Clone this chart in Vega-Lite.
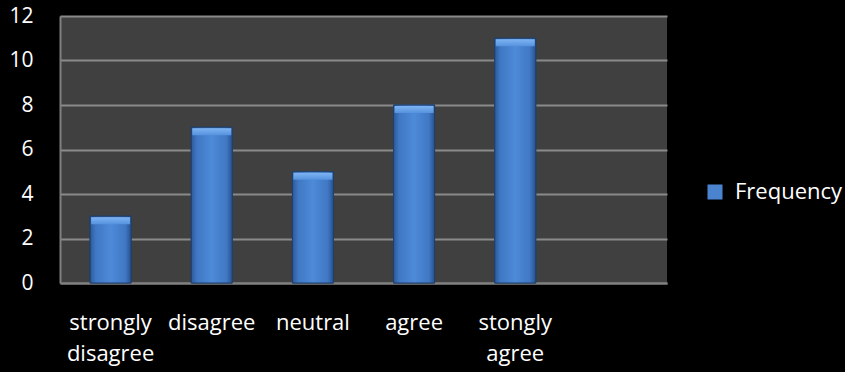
{
  "$schema": "https://vega.github.io/schema/vega-lite/v6.json",
  "width": 607,
  "height": 267,
  "autosize": "none",
  "padding": {"left": 60, "top": 16, "right": 178, "bottom": 89},
  "background": "#000000",
  "data": {
    "values": [
      {"response": "strongly disagree", "frequency": 3},
      {"response": "disagree", "frequency": 7},
      {"response": "neutral", "frequency": 5},
      {"response": "agree", "frequency": 8},
      {"response": "stongly agree", "frequency": 11}
    ]
  },
  "encoding": {
    "x": {
      "field": "response",
      "type": "nominal",
      "sort": null,
      "title": null,
      "scale": {
        "domain": ["strongly disagree", "disagree", "neutral", "agree", "stongly agree", " "],
        "paddingInner": 0.595,
        "paddingOuter": 0.2975
      },
      "axis": {
        "labelExpr": "split(datum.label, ' ')",
        "labelAngle": 0,
        "labelColor": "#ffffff",
        "labelFont": "Open Sans",
        "labelFontSize": 22,
        "labelLineHeight": 31,
        "labelPadding": 29,
        "labelBaseline": "top",
        "labelOverlap": false,
        "labelBound": false,
        "ticks": false,
        "domain": true,
        "domainColor": "#808080",
        "domainWidth": 2,
        "grid": false
      }
    },
    "y": {
      "field": "frequency",
      "type": "quantitative",
      "title": null,
      "scale": {"domain": [0, 12], "nice": false},
      "axis": {
        "values": [0, 2, 4, 6, 8, 10, 12],
        "labelColor": "#ffffff",
        "labelFont": "Open Sans",
        "labelFontSize": 21,
        "labelPadding": 27,
        "ticks": false,
        "domain": true,
        "domainColor": "#808080",
        "domainWidth": 2,
        "grid": true,
        "gridColor": "#8a8a8a",
        "gridWidth": 2
      }
    }
  },
  "layer": [
    {
      "mark": {"type": "bar", "stroke": "#1f3f6a", "strokeWidth": 1},
      "encoding": {
        "color": {
          "datum": "Frequency",
          "type": "nominal",
          "scale": {"range": ["#4a84cf"]},
          "legend": {
            "title": null,
            "orient": "none",
            "legendX": 644,
            "legendY": 165,
            "symbolType": "square",
            "symbolSize": 225,
            "symbolStrokeWidth": 0,
            "labelColor": "#ffffff",
            "labelFont": "Open Sans",
            "labelFontSize": 22,
            "labelOffset": 9
          }
        }
      }
    },
    {
      "mark": {
        "type": "bar",
        "fill": {
          "gradient": "linear",
          "x1": 0, "y1": 0, "x2": 1, "y2": 0,
          "stops": [
            {"offset": 0, "color": "#2c5a99"},
            {"offset": 0.14, "color": "#4078c4"},
            {"offset": 0.5, "color": "#4d8ad8"},
            {"offset": 0.86, "color": "#4078c4"},
            {"offset": 1, "color": "#27528f"}
          ]
        },
        "stroke": "#1f3f6a",
        "strokeWidth": 1
      }
    },
    {
      "mark": {
        "type": "tick",
        "orient": "horizontal",
        "size": 39,
        "thickness": 7,
        "yOffset": 4.5,
        "fill": {
          "gradient": "linear",
          "x1": 0, "y1": 0, "x2": 0, "y2": 1,
          "stops": [
            {"offset": 0, "color": "#7fb4f2"},
            {"offset": 1, "color": "#5592de"}
          ]
        },
        "opacity": 1
      }
    }
  ],
  "config": {
    "view": {"fill": "#404040", "stroke": null}
  }
}
